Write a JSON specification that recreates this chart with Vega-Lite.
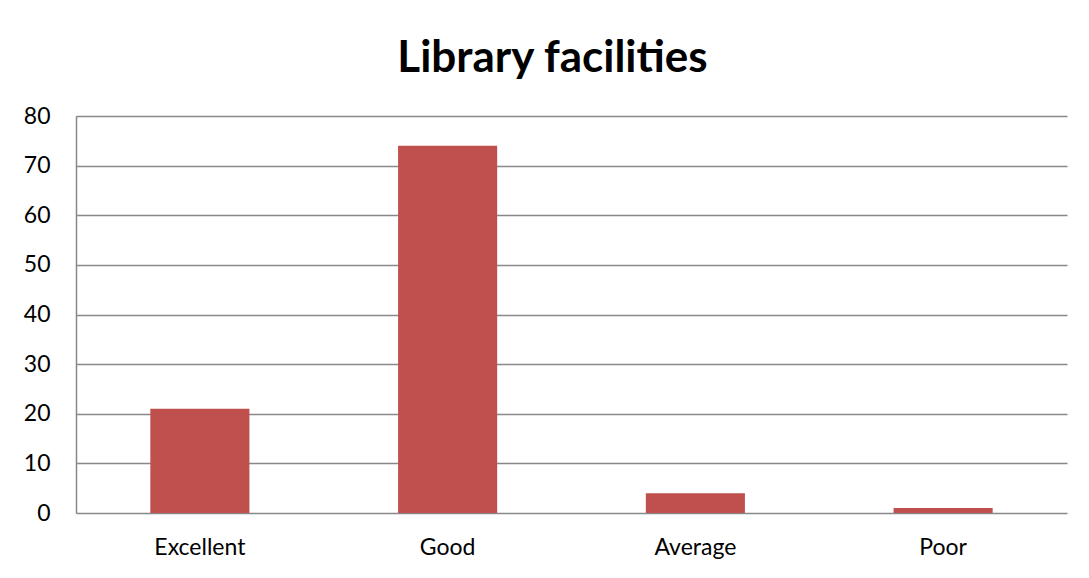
{
  "$schema": "https://vega.github.io/schema/vega-lite/v6.json",
  "autosize": "none",
  "width": 991,
  "height": 397,
  "padding": {"left": 76, "top": 116, "right": 22, "bottom": 65},
  "background": "white",
  "title": {
    "text": "Library facilities",
    "font": "Lato",
    "fontSize": 44,
    "fontWeight": "bold",
    "color": "black",
    "anchor": "middle",
    "offset": 24,
    "dx": -19
  },
  "data": {
    "values": [
      {"rating": "Excellent", "count": 21},
      {"rating": "Good", "count": 74},
      {"rating": "Average", "count": 4},
      {"rating": "Poor", "count": 1}
    ]
  },
  "mark": {"type": "bar", "color": "#C0504D"},
  "encoding": {
    "x": {
      "field": "rating",
      "type": "nominal",
      "sort": null,
      "scale": {"paddingInner": 0.6, "paddingOuter": 0.3},
      "axis": {
        "title": null,
        "labelAngle": 0,
        "ticks": false,
        "domain": false,
        "labelPadding": 23,
        "labelFont": "Lato",
        "labelFontSize": 23,
        "labelColor": "black",
        "grid": false
      }
    },
    "y": {
      "field": "count",
      "type": "quantitative",
      "scale": {"domain": [0, 80], "nice": false},
      "axis": {
        "title": null,
        "values": [0, 10, 20, 30, 40, 50, 60, 70, 80],
        "ticks": false,
        "domain": true,
        "domainColor": "#888888",
        "domainWidth": 1.5,
        "gridColor": "#888888",
        "gridWidth": 1.5,
        "labelPadding": 26,
        "labelFont": "Lato",
        "labelFontSize": 23,
        "labelColor": "black"
      }
    }
  },
  "config": {"view": {"stroke": null}}
}
